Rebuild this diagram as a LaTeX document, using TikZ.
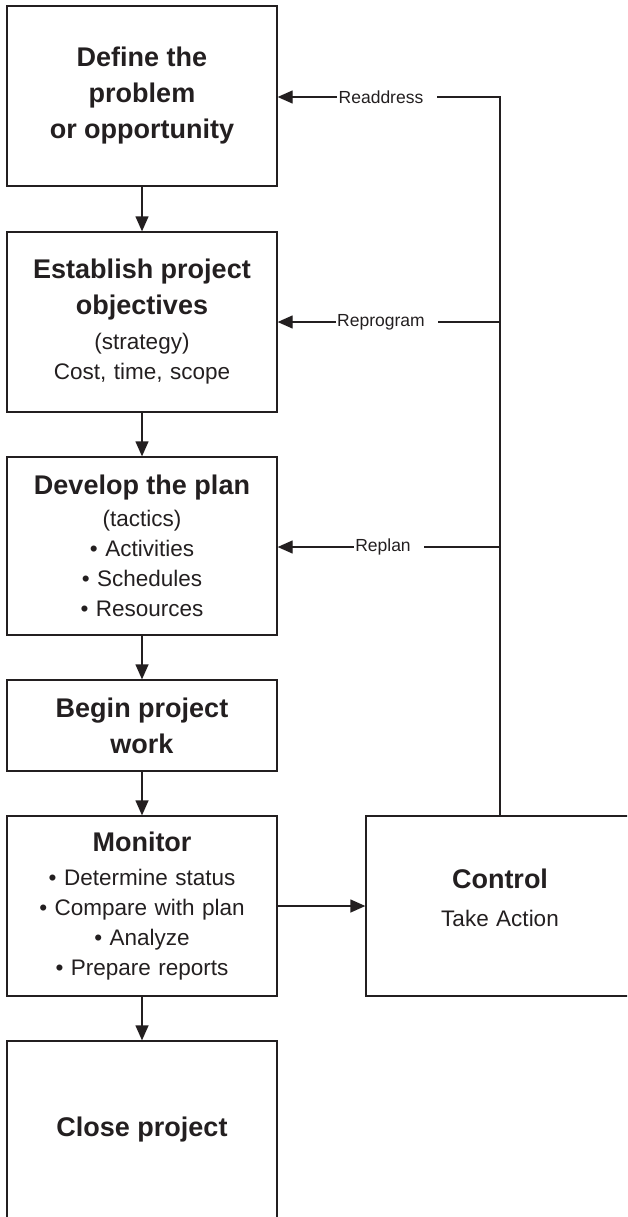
\documentclass[tikz,border=0pt]{standalone}
\usepackage{fontspec}
\setmainfont{Liberation Sans}
\usetikzlibrary{arrows.meta}
\definecolor{ink}{HTML}{231F20}
\setlength{\parindent}{0pt}
% bold heading lines inside the stage boxes
\newcommand{\hd}{\bfseries\fontsize{27}{36}\selectfont}
\newcommand{\bodyskip}[1]{\fontsize{22.5}{#1}\selectfont}

\tikzset{
  stage/.style={draw=ink, line width=1.3pt, minimum width=270pt, text width=262pt,
    align=center, inner sep=0pt, text=ink, font=\fontsize{22.5}{30}\selectfont},
  flow/.style={draw=ink, line width=1.3pt, -{Triangle[length=15pt,width=13pt]}},
  loopline/.style={draw=ink, line width=1.3pt},
  looplabel/.style={font=\fontsize{17.5}{20}\selectfont, text=ink, inner sep=1.5pt},
}

\begin{document}
\begin{tikzpicture}[x=1pt,y=-1pt]
  \useasboundingbox (0,0) rectangle (627,1217);
  \clip (0,0) rectangle (627,1217);

  % main sequence of stages
  \node[stage, minimum height=180pt] (b1) at (142,96)
    {{\hd Define the\par problem\par or opportunity\par}};
  \node[stage, minimum height=180pt] (b2) at (142,322)
    {{\hd Establish project\par objectives\par}{\bodyskip{35}(strategy)\par}Cost, time, scope};
  \node[stage, minimum height=178pt] (b3) at (142,546)
    {{\hd Develop the plan\par}{\bodyskip{32}(tactics)\par}• Activities\par • Schedules\par • Resources};
  \node[stage, minimum height=91pt] (b4) at (142,725.5)
    {{\hd Begin project\par work\par}};
  \node[stage, minimum height=180pt] (b5) at (142,906)
    {{\hd Monitor\par}{\bodyskip{34}• Determine status\par}• Compare with plan\par • Analyze\par • Prepare reports};
  \node[stage, minimum height=178pt] (b6) at (142,1130)
    {{\hd Close project\par}};

  % control box, running off the right edge
  \node[stage, minimum width=268pt, minimum height=180pt] (ctl) at (500,906)
    {{\hd Control\par}{\bodyskip{38}Take Action\par}\vspace{16pt}};

  % forward flow
  \draw[flow] (b1.south) -- (b2.north);
  \draw[flow] (b2.south) -- (b3.north);
  \draw[flow] (b3.south) -- (b4.north);
  \draw[flow] (b4.south) -- (b5.north);
  \draw[flow] (b5.south) -- (b6.north);
  \draw[flow] (b5.east) -- (ctl.west);

  % feedback loops from control
  \node[looplabel] (lA) at (381,97) {Readdress};
  \node[looplabel] (lB) at (381,322) {Reprogram};
  \node[looplabel] (lC) at (383,547) {Replan};

  \draw[flow] (lA.west) -- (lA.west -| b1.east);
  \draw[flow] (lB.west) -- (lB.west -| b2.east);
  \draw[flow] (lC.west) -- (lC.west -| b3.east);

  \draw[loopline] ([xshift=12pt]lA.east) -| (ctl.north);
  \draw[loopline] ([xshift=12pt]lB.east) -- (lB.east -| ctl.north);
  \draw[loopline] ([xshift=12pt]lC.east) -- (lC.east -| ctl.north);
\end{tikzpicture}
\end{document}
